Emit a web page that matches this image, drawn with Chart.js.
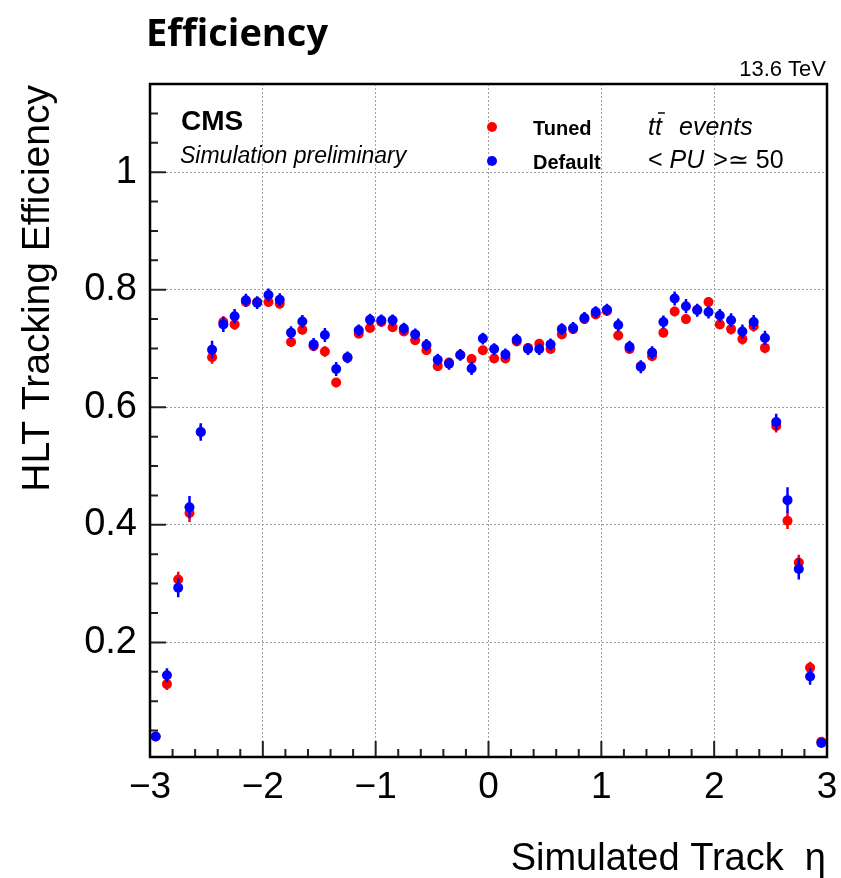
<!DOCTYPE html>
<html>
<head>
<meta charset="utf-8">
<title>HLT Tracking Efficiency</title>
<script src="https://cdn.jsdelivr.net/npm/chart.js@4.4.1/dist/chart.umd.min.js"></script>
<style>
	html, body { margin: 0; padding: 0; background: #fff; }
	canvas { display: block; }
</style>
</head>
<body>
<canvas id="chart" width="841" height="878"></canvas>
<script>
const etaBins = [
	-2.95, -2.85, -2.75, -2.65, -2.55, -2.45, -2.35, -2.25, -2.15, -2.05,
	-1.95, -1.85, -1.75, -1.65, -1.55, -1.45, -1.35, -1.25, -1.15, -1.05,
	-0.95, -0.85, -0.75, -0.65, -0.55, -0.45, -0.35, -0.25, -0.15, -0.05,
	0.05, 0.15, 0.25, 0.35, 0.45, 0.55, 0.65, 0.75, 0.85, 0.95,
	1.05, 1.15, 1.25, 1.35, 1.45, 1.55, 1.65, 1.75, 1.85, 1.95,
	2.05, 2.15, 2.25, 2.35, 2.45, 2.55, 2.65, 2.75, 2.85, 2.95
];
const tunedEff = [
	0.040, 0.129, 0.307, 0.420, 0.558, 0.685, 0.745, 0.741, 0.779, 0.779,
	0.779, 0.776, 0.711, 0.732, 0.704, 0.695, 0.642, 0.684, 0.725, 0.735,
	0.745, 0.736, 0.729, 0.714, 0.697, 0.670, 0.676, 0.689, 0.682, 0.697,
	0.683, 0.683, 0.712, 0.701, 0.708, 0.699, 0.724, 0.733, 0.750, 0.758,
	0.764, 0.722, 0.699, 0.670, 0.687, 0.727, 0.763, 0.750, 0.766, 0.779,
	0.741, 0.733, 0.716, 0.738, 0.701, 0.568, 0.407, 0.336, 0.157, 0.031
];
const tunedErr = [
	0.005, 0.010, 0.013, 0.015, 0.012, 0.011, 0.010, 0.009, 0.008, 0.008,
	0.008, 0.008, 0.008, 0.008, 0.008, 0.009, 0.008, 0.007, 0.007, 0.007,
	0.007, 0.007, 0.007, 0.007, 0.007, 0.007, 0.007, 0.007, 0.008, 0.007,
	0.007, 0.007, 0.007, 0.007, 0.007, 0.007, 0.007, 0.007, 0.007, 0.007,
	0.007, 0.008, 0.007, 0.008, 0.008, 0.008, 0.008, 0.008, 0.008, 0.008,
	0.008, 0.009, 0.009, 0.009, 0.009, 0.011, 0.014, 0.013, 0.010, 0.004
];
const defaultEff = [
	0.040, 0.144, 0.293, 0.430, 0.558, 0.698, 0.741, 0.755, 0.782, 0.778,
	0.791, 0.783, 0.727, 0.746, 0.707, 0.723, 0.665, 0.685, 0.731, 0.749,
	0.748, 0.748, 0.734, 0.724, 0.706, 0.681, 0.674, 0.689, 0.666, 0.717,
	0.699, 0.690, 0.715, 0.699, 0.699, 0.707, 0.733, 0.735, 0.752, 0.762,
	0.766, 0.740, 0.703, 0.669, 0.693, 0.745, 0.785, 0.772, 0.765, 0.762,
	0.756, 0.748, 0.729, 0.745, 0.718, 0.575, 0.442, 0.325, 0.142, 0.029
];
const defaultErr = [
	0.006, 0.012, 0.016, 0.019, 0.015, 0.015, 0.013, 0.012, 0.011, 0.011,
	0.011, 0.011, 0.011, 0.011, 0.011, 0.012, 0.012, 0.010, 0.010, 0.010,
	0.010, 0.010, 0.010, 0.010, 0.010, 0.010, 0.010, 0.010, 0.011, 0.010,
	0.010, 0.010, 0.010, 0.010, 0.010, 0.010, 0.010, 0.010, 0.010, 0.010,
	0.010, 0.011, 0.010, 0.011, 0.011, 0.011, 0.012, 0.012, 0.011, 0.011,
	0.011, 0.012, 0.012, 0.012, 0.012, 0.014, 0.022, 0.018, 0.014, 0.005
];
const xTickValues = [-3, -2, -1, 0, 1, 2, 3];
const xTickLabels = ['\u22123', '\u22122', '\u22121', '0', '1', '2', '3'];
const yTickValues = [0.2, 0.4, 0.6, 0.8, 1];
const yTickLabels = ['0.2', '0.4', '0.6', '0.8', '1'];

const SANS = '"Liberation Sans", Arial, sans-serif';
const RED = '#ff0000';
const BLUE = '#0000ff';

// vertical error bars, drawn just under each dataset's markers
const errorBarsPlugin = {
	id: 'errorBars',
	beforeDatasetDraw(chart, args) {
		const ds = chart.data.datasets[args.index];
		const { ctx, scales: { x, y } } = chart;
		ctx.save();
		ctx.strokeStyle = ds.backgroundColor;
		ctx.lineWidth = 2.5;
		ctx.beginPath();
		ds.data.forEach((p, i) => {
			const px = x.getPixelForValue(p.x);
			ctx.moveTo(px, y.getPixelForValue(p.y - ds.errors[i]));
			ctx.lineTo(px, y.getPixelForValue(p.y + ds.errors[i]));
		});
		ctx.stroke();
		ctx.restore();
	}
};

// ROOT style frame, inner ticks and the texts around the plot
const decorPlugin = {
	id: 'decor',
	afterDraw(chart) {
		const { ctx, chartArea: area, scales: { x, y } } = chart;
		ctx.save();

		ctx.strokeStyle = '#222';
		ctx.lineWidth = 2;
		ctx.beginPath();
		for (let v = -3; v <= 3.001; v += 0.2) {
			const px = x.getPixelForValue(v);
			const len = Math.abs(v - Math.round(v)) < 0.01 ? 16 : 8;
			ctx.moveTo(px, area.bottom);
			ctx.lineTo(px, area.bottom - len);
		}
		for (let v = 0.05; v < 1.15; v += 0.05) {
			const py = y.getPixelForValue(v);
			const len = Math.abs(v * 5 - Math.round(v * 5)) < 0.01 ? 16 : 8;
			ctx.moveTo(area.left, py);
			ctx.lineTo(area.left + len, py);
		}
		ctx.stroke();

		ctx.strokeStyle = '#000';
		ctx.lineWidth = 2.5;
		ctx.strokeRect(area.left, area.top, area.right - area.left, area.bottom - area.top);

		ctx.fillStyle = '#000';
		ctx.textBaseline = 'alphabetic';

		ctx.font = 'bold 38px "Open Sans", Lato, sans-serif';
		ctx.textAlign = 'left';
		ctx.fillText('Efficiency', 146, 46);

		ctx.font = '22px ' + SANS;
		ctx.textAlign = 'right';
		ctx.fillText('13.6 TeV', 826, 76);

		ctx.textAlign = 'left';
		ctx.font = 'bold 28px ' + SANS;
		ctx.fillText('CMS', 181, 130);
		ctx.font = 'italic 23px ' + SANS;
		ctx.fillText('Simulation preliminary', 180, 163);

		ctx.fillStyle = RED;
		ctx.beginPath();
		ctx.arc(492, 127, 5, 0, Math.PI * 2);
		ctx.fill();
		ctx.fillStyle = BLUE;
		ctx.beginPath();
		ctx.arc(492, 161, 5, 0, Math.PI * 2);
		ctx.fill();

		ctx.fillStyle = '#000';
		ctx.font = 'bold 20px ' + SANS;
		ctx.fillText('Tuned', 533, 135);
		ctx.fillText('Default', 533, 169);

		ctx.font = 'italic 25px ' + SANS;
		ctx.fillText('tt', 648, 135);
		const tw = ctx.measureText('t').width;
		ctx.lineWidth = 1.5;
		ctx.beginPath();
		ctx.moveTo(648 + tw + 3, 113);
		ctx.lineTo(648 + 2 * tw + 3, 113);
		ctx.stroke();
		ctx.fillText('events', 679, 135);

		let cx = 648;
		ctx.font = '25px ' + SANS;
		ctx.fillText('< ', cx, 168);
		cx += ctx.measureText('< ').width;
		ctx.font = 'italic 25px ' + SANS;
		ctx.fillText('PU', cx, 168);
		cx += ctx.measureText('PU ').width + 2;
		ctx.font = '25px ' + SANS;
		ctx.fillText('>\u2243 50', cx, 168);

		ctx.font = '38px ' + SANS;
		ctx.textAlign = 'right';
		ctx.fillText('Simulated Track  \u03b7', 826, 870);

		ctx.font = '39px ' + SANS;
		ctx.translate(49, 85);
		ctx.rotate(-Math.PI / 2);
		ctx.fillText('HLT Tracking Efficiency', 0, 0);

		ctx.restore();
	}
};

const gridStyle = {
	color: '#a0a0a0',
	lineWidth: 1,
	drawTicks: false
};

new Chart(document.getElementById('chart').getContext('2d'), {
	type: 'scatter',
	data: {
		datasets: [
			{
				label: 'Default',
				data: etaBins.map((eta, i) => ({ x: eta, y: defaultEff[i] })),
				errors: defaultErr,
				backgroundColor: BLUE,
				borderWidth: 0,
				pointRadius: 5
			},
			{
				label: 'Tuned',
				data: etaBins.map((eta, i) => ({ x: eta, y: tunedEff[i] })),
				errors: tunedErr,
				backgroundColor: RED,
				borderWidth: 0,
				pointRadius: 5
			}
		]
	},
	options: {
		responsive: false,
		animation: false,
		layout: {
			padding: { top: 84, right: 14, left: 0, bottom: 0 }
		},
		scales: {
			x: {
				type: 'linear',
				min: -3,
				max: 3,
				afterBuildTicks: scale => { scale.ticks = xTickValues.map(v => ({ value: v })); },
				afterFit: scale => {
					scale.height = 121;
					scale.paddingLeft = 0;
					scale.paddingRight = 0;
				},
				grid: gridStyle,
				border: { display: false, dash: [2, 2] },
				ticks: {
					autoSkip: false,
					maxRotation: 0,
					padding: 9,
					color: '#000',
					font: { family: SANS, size: 37 },
					callback: value => xTickLabels[xTickValues.indexOf(value)]
				}
			},
			y: {
				type: 'linear',
				min: 0.005,
				max: 1.15,
				afterBuildTicks: scale => { scale.ticks = yTickValues.map(v => ({ value: v })); },
				afterFit: scale => {
					scale.width = 150;
					scale.paddingTop = 0;
					scale.paddingBottom = 0;
				},
				grid: gridStyle,
				border: { display: false, dash: [2, 2] },
				ticks: {
					padding: 13,
					color: '#000',
					font: { family: SANS, size: 38 },
					callback: value => yTickLabels[yTickValues.indexOf(value)]
				}
			}
		},
		plugins: {
			legend: { display: false },
			tooltip: { enabled: false }
		}
	},
	plugins: [errorBarsPlugin, decorPlugin]
});
</script>
</body>
</html>
